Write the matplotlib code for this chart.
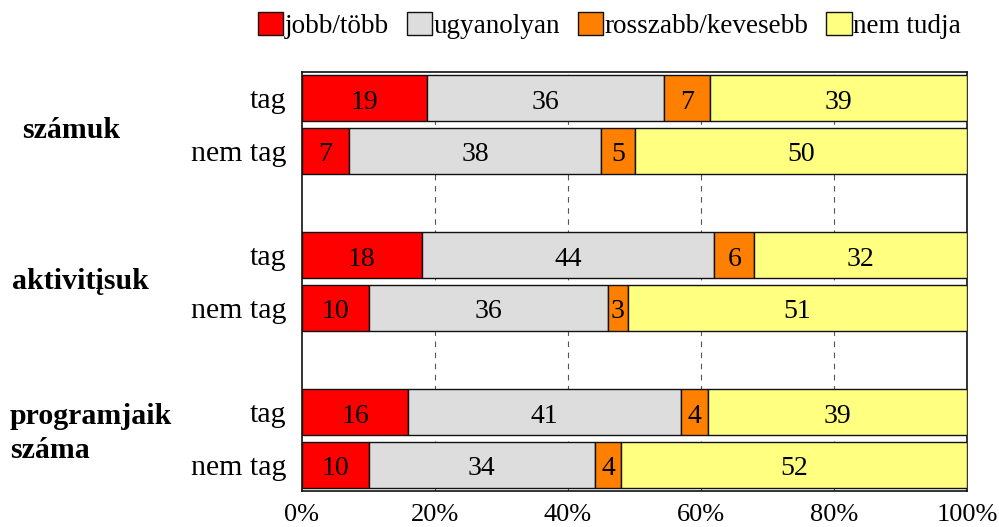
import matplotlib
matplotlib.use("Agg")
import matplotlib.pyplot as plt
import numpy as np
from matplotlib.patches import Patch

plt.rcParams["font.family"] = ["Liberation Serif", "DejaVu Serif"]

series_names = ["jobb/több", "ugyanolyan", "rosszabb/kevesebb", "nem tudja"]
colors = ["#FF0000", "#DDDDDD", "#FF8000", "#FFFF80"]

row_labels = ["tag", "nem tag", "tag", "nem tag", "tag", "nem tag"]
group_labels = ["számuk", "aktivitįsuk", "programjaik\nszáma"]

jobb = [19, 7, 18, 10, 16, 10]
ugyanolyan = [36, 38, 44, 36, 41, 34]
rosszabb = [7, 5, 6, 3, 4, 4]
nem_tudja = [39, 50, 32, 51, 39, 52]

values = np.array([jobb, ugyanolyan, rosszabb, nem_tudja], dtype=float)
shares = values / values.sum(axis=0) * 100

# two bars per group, one empty slot between groups
slots = np.array([0, 1, 3, 4, 6, 7])

fig = plt.figure(figsize=(9.99, 5.27), dpi=100)
ax = fig.add_axes([0.3023, 0.0683, 0.6657, 0.7951])

left = np.zeros(len(slots))
for k in range(len(series_names)):
    ax.barh(slots, shares[k], left=left, height=0.88, color=colors[k],
            edgecolor="#111111", linewidth=1.0, zorder=3)
    for y, l, w, v in zip(slots, left, shares[k], values[k]):
        ax.text(l + w / 2, y + 0.02, f"{int(v)}", ha="center",
                va="center_baseline", fontsize=20, zorder=4)
    left += shares[k]

ax.set_xlim(0, 100)
ax.set_ylim(7.5, -0.5)
ax.set_xticks(np.arange(0, 101, 20), [f"{t}%" for t in range(0, 101, 20)])
ax.set_yticks(slots, row_labels)
ax.tick_params(axis="both", length=0)
ax.tick_params(axis="y", pad=11, labelsize=21.5)
ax.tick_params(axis="x", pad=9, labelsize=19)
for t in [20, 40, 60, 80]:
    ax.axvline(t, color="#555555", linestyle=(0, (5, 5)), linewidth=0.8,
               zorder=1)
for s in ax.spines.values():
    s.set_linewidth(1.2)
    s.set_color("#111111")

fig.text(0.022, 0.752, group_labels[0], fontsize=21.5, fontweight="bold",
         ha="left", va="center")
fig.text(0.012, 0.466, group_labels[1], fontsize=21.5, fontweight="bold",
         ha="left", va="center")
fig.text(0.010, 0.177, group_labels[2], fontsize=21.5, fontweight="bold",
         ha="left", va="center", linespacing=1.35)

handles = [Patch(facecolor=c, edgecolor="#111111", linewidth=1.0)
           for c in colors]
fig.legend(handles, series_names, loc="center", bbox_to_anchor=(0.61, 0.952),
           ncol=4, frameon=False, fontsize=19.5, handlelength=0.95,
           handleheight=0.95, handletextpad=0.05, columnspacing=0.65)

fig.savefig("out.png", dpi=100)
